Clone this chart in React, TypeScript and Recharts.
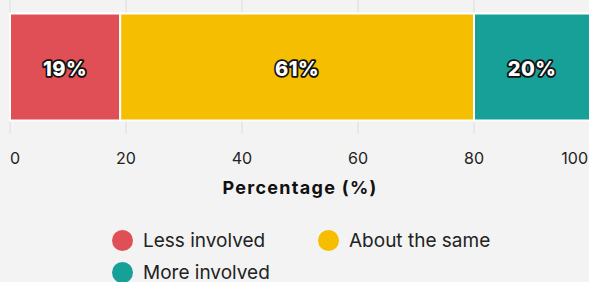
import { BarChart, Bar, XAxis, YAxis, CartesianGrid, LabelList } from 'recharts'

const categories = ['Involvement']
const lessInvolved = [19]
const aboutSame = [61]
const moreInvolved = [20]
const xTicks = [0, 20, 40, 60, 80, 100]

const SERIES = [
  { key: 'less', name: 'Less involved', color: '#E04F56', values: lessInvolved },
  { key: 'same', name: 'About the same', color: '#F6BE00', values: aboutSame },
  { key: 'more', name: 'More involved', color: '#17A098', values: moreInvolved },
]

const data = categories.map((c, i) => ({
  category: c,
  less: lessInvolved[i],
  same: aboutSame[i],
  more: moreInvolved[i],
}))

const FONT = 'Inter, "Noto Sans", sans-serif'

function BarLabel(props: any) {
  const { x, y, width, height, value } = props
  return (
    <text
      x={x + width / 2}
      y={y + height / 2 + 2}
      textAnchor="middle"
      dominantBaseline="central"
      fill="#fff"
      stroke="#111"
      strokeWidth={3.5}
      strokeLinejoin="round"
      paintOrder="stroke"
      fontSize={20}
      fontWeight={800}
      letterSpacing={0.5}
      fontFamily={FONT}
    >
      {value}%
    </text>
  )
}

// first label flush left, last flush right
function FlushTick(props: any) {
  const { x, y, payload, index } = props
  const last = xTicks.length - 1
  const anchor = index === 0 ? 'start' : index === last ? 'end' : 'middle'
  return (
    <text x={x} y={y} dy="0.71em" textAnchor={anchor} fill="#222" fontSize={16} fontFamily={FONT}>
      {payload.value}
    </text>
  )
}

function LegendBox() {
  return (
    <div
      style={{
        position: 'absolute', left: 112, top: 224, width: 460,
        display: 'grid', gridTemplateColumns: '206px auto', fontFamily: FONT,
      }}
    >
      {SERIES.map((s) => (
        <div key={s.key} style={{ display: 'flex', alignItems: 'center', height: 32 }}>
          <span style={{ width: 21, height: 21, borderRadius: '50%', background: s.color, marginRight: 10, flex: 'none' }} />
          <span style={{ fontSize: 19, color: '#222', whiteSpace: 'nowrap' }}>{s.name}</span>
        </div>
      ))}
    </div>
  )
}

export default function App() {
  return (
    <div style={{ position: 'fixed', left: 0, top: 0, width: 589, height: 282, background: '#F3F3F3', overflow: 'hidden' }}>
      <BarChart
        width={600}
        height={282}
        data={data}
        layout="vertical"
        barCategoryGap="10%"
        margin={{ top: 0, right: 10, left: 10, bottom: 88 }}
        style={{ fontFamily: FONT }}
      >
        <CartesianGrid horizontal={false} stroke="#DCDCDC" />
        <XAxis
          type="number"
          domain={[0, 100]}
          ticks={xTicks}
          axisLine={false}
          tickLine={false}
          tickMargin={13}
          tick={<FlushTick />}
          label={{ value: 'Percentage (%)', position: 'insideBottom', offset: 0, fill: '#111', fontSize: 18, fontWeight: 700, letterSpacing: 1.3 }}
          height={60}
        />
        <YAxis type="category" dataKey="category" width={0} tick={false} tickLine={false} axisLine={{ stroke: '#D5DDF0', strokeWidth: 2 }} />
        {SERIES.map((s) => (
          <Bar key={s.key} dataKey={s.key} name={s.name} stackId="a" fill={s.color} stroke="#fff" strokeWidth={2} isAnimationActive={false}>
            <LabelList dataKey={s.key} content={BarLabel} />
          </Bar>
        ))}
      </BarChart>
      <LegendBox />
    </div>
  )
}
